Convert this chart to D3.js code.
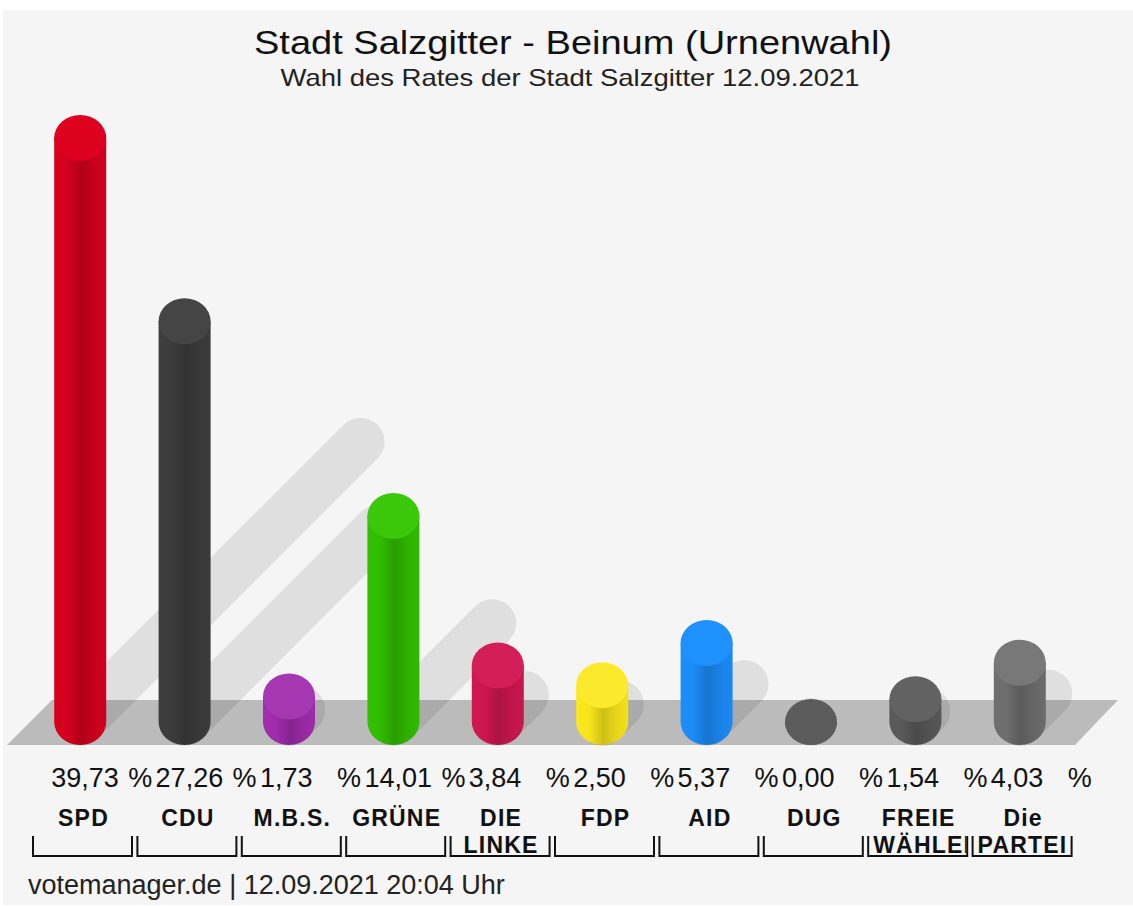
<!DOCTYPE html>
<html><head><meta charset="utf-8">
<script src="https://cdn.jsdelivr.net/npm/d3@7"></script>
<style>body{margin:0;background:#fff}svg{display:block}</style>
</head><body><svg id="c" width="1133" height="907"></svg>
<script>
// ---- data ----
const parties = ["SPD","CDU","M.B.S.","GRÜNE","DIE LINKE","FDP","AID","DUG","FREIE WÄHLER","Die PARTEI"];
const labelLine1 = ["SPD","CDU","M.B.S.","GRÜNE","DIE","FDP","AID","DUG","FREIE","Die"];
const labelLine2 = ["","","","","LINKE","","","","WÄHLER","PARTEI"];
const values = [39.73, 27.26, 1.73, 14.01, 3.84, 2.50, 5.37, 0.00, 1.54, 4.03];
const colors = ["#cf001d","#3b3b3b","#9c2ba8","#30b900","#c9164f","#f3df1b","#1b89f2","#5a5a5a","#575757","#6b6b6b"];
const topColors = ["#de001f","#454545","#a637b3","#3bc80a","#d41e59","#fbea2c","#1f91ff","#5c5c5c","#626262","#787878"];
const title = "Stadt Salzgitter - Beinum (Urnenwahl)";
const subtitle = "Wahl des Rates der Stadt Salzgitter 12.09.2021";
const footer = "votemanager.de | 12.09.2021 20:04 Uhr";

// ---- layout ----
const W = 1133, H = 907;
const FONT = "'Liberation Sans', Arial, Helvetica, sans-serif";
const y0 = 722, rx = 26, ry = 23;
const svg = d3.select("#c");
const defs = svg.append("defs");

const x = d3.scaleBand().domain(parties).range([29, 1073]).padding(0);
const h = d3.scaleLinear().domain([0, 40]).range([0, 588]);
const cx = p => x(p) + x.bandwidth() / 2 - 1;
const fmtNum = v => d3.format(".2f")(v).replace(".", ",");

// background
svg.append("rect").attr("width", W).attr("height", H).attr("fill", "#ffffff");
svg.append("rect").attr("x", 3).attr("y", 10).attr("width", W - 3).attr("height", H - 12).attr("fill", "#f5f5f5");

// title
svg.append("text").attr("x", 573).attr("y", 54).attr("text-anchor", "middle")
  .attr("font-family", FONT).attr("font-size", 34).attr("fill", "#111")
  .attr("textLength", 638).attr("lengthAdjust", "spacingAndGlyphs").text(title);
svg.append("text").attr("x", 570).attr("y", 86).attr("text-anchor", "middle")
  .attr("font-family", FONT).attr("font-size", 24).attr("fill", "#222")
  .attr("textLength", 579).attr("lengthAdjust", "spacingAndGlyphs").text(subtitle);

// floor
svg.append("path").attr("d", "M7,745 L52,700 L1118,700 L1075,745 Z").attr("fill", "#bbbbbb");

// shadows
const k = 0.48;
svg.append("g").selectAll("line").data(parties).join("line")
  .attr("x1", p => cx(p)).attr("y1", y0)
  .attr("x2", (p, i) => cx(p) + k * h(values[i]))
  .attr("y2", (p, i) => y0 - k * h(values[i]))
  .attr("stroke", "rgba(0,0,0,0.085)").attr("stroke-width", 48).attr("stroke-linecap", "round");

// gradients
parties.forEach((p, i) => {
  const c = d3.color(colors[i]);
  const g = defs.append("linearGradient").attr("id", "g" + i).attr("x1", 0).attr("x2", 1).attr("y1", 0).attr("y2", 0);
  g.append("stop").attr("offset", "0%").attr("stop-color", c.brighter(0.1));
  g.append("stop").attr("offset", "25%").attr("stop-color", c.brighter(0.05));
  g.append("stop").attr("offset", "52%").attr("stop-color", c.darker(0.45));
  g.append("stop").attr("offset", "80%").attr("stop-color", c.darker(0.1));
  g.append("stop").attr("offset", "100%").attr("stop-color", c);
});

// bars
const bars = svg.append("g").selectAll("g").data(parties).join("g");
bars.append("path")
  .attr("d", (p, i) => {
    const c = cx(p), t = y0 - h(values[i]);
    return `M${c - rx},${t} L${c - rx},${y0} A${rx},${ry} 0 0 0 ${c + rx},${y0} L${c + rx},${t} Z`;
  })
  .attr("fill", (p, i) => `url(#g${i})`);
bars.append("ellipse")
  .attr("cx", p => cx(p)).attr("cy", (p, i) => y0 - h(values[i]))
  .attr("rx", rx).attr("ry", ry)
  .attr("fill", (p, i) => topColors[i]);

// value labels: number + percent sign
const vl = svg.append("g").selectAll("text").data(parties).join("text")
  .attr("y", 787).attr("font-family", FONT).attr("font-size", 27).attr("fill", "#111");
vl.append("tspan").attr("x", p => cx(p) - 29).attr("text-anchor", "start")
  .text((p, i) => fmtNum(values[i]));
vl.append("tspan").attr("x", p => cx(p) + 48).attr("text-anchor", "start").text("%");

// party labels & brackets
const lab = svg.append("g").selectAll("g").data(parties).join("g");
lab.each(function (p, i) {
  const g = d3.select(this);
  const l = x(p) + 4, r = x(p) + 103, m = (l + r) / 2;
  defs.append("clipPath").attr("id", "cl" + i).append("rect")
    .attr("x", l).attr("y", 800).attr("width", r - l - 1).attr("height", 60);
  g.append("text").attr("x", m + 1).attr("y", 826).attr("text-anchor", "middle")
    .attr("font-family", FONT).attr("font-weight", "bold").attr("font-size", 23)
    .attr("letter-spacing", 1.2).attr("fill", "#111")
    .text(labelLine1[i]);
  if (labelLine2[i]) {
    const t = g.append("text").attr("y", 853)
      .attr("font-family", FONT).attr("font-weight", "bold").attr("font-size", 23)
      .attr("letter-spacing", 1.2).attr("fill", "#111")
      .attr("clip-path", `url(#cl${i})`).text(labelLine2[i]);
    const tw = t.node().getComputedTextLength();
    if (tw > r - l - 14) t.attr("x", l + 5); else t.attr("x", m + 1).attr("text-anchor", "middle");
  }
  g.append("path").attr("d", `M${l},836 L${l},856 L${r},856 L${r},836`)
    .attr("fill", "none").attr("stroke", "#111").attr("stroke-width", 2);
});

// footer
svg.append("text").attr("x", 28).attr("y", 894)
  .attr("font-family", FONT).attr("font-size", 27).attr("fill", "#222").text(footer);
</script></body></html>
